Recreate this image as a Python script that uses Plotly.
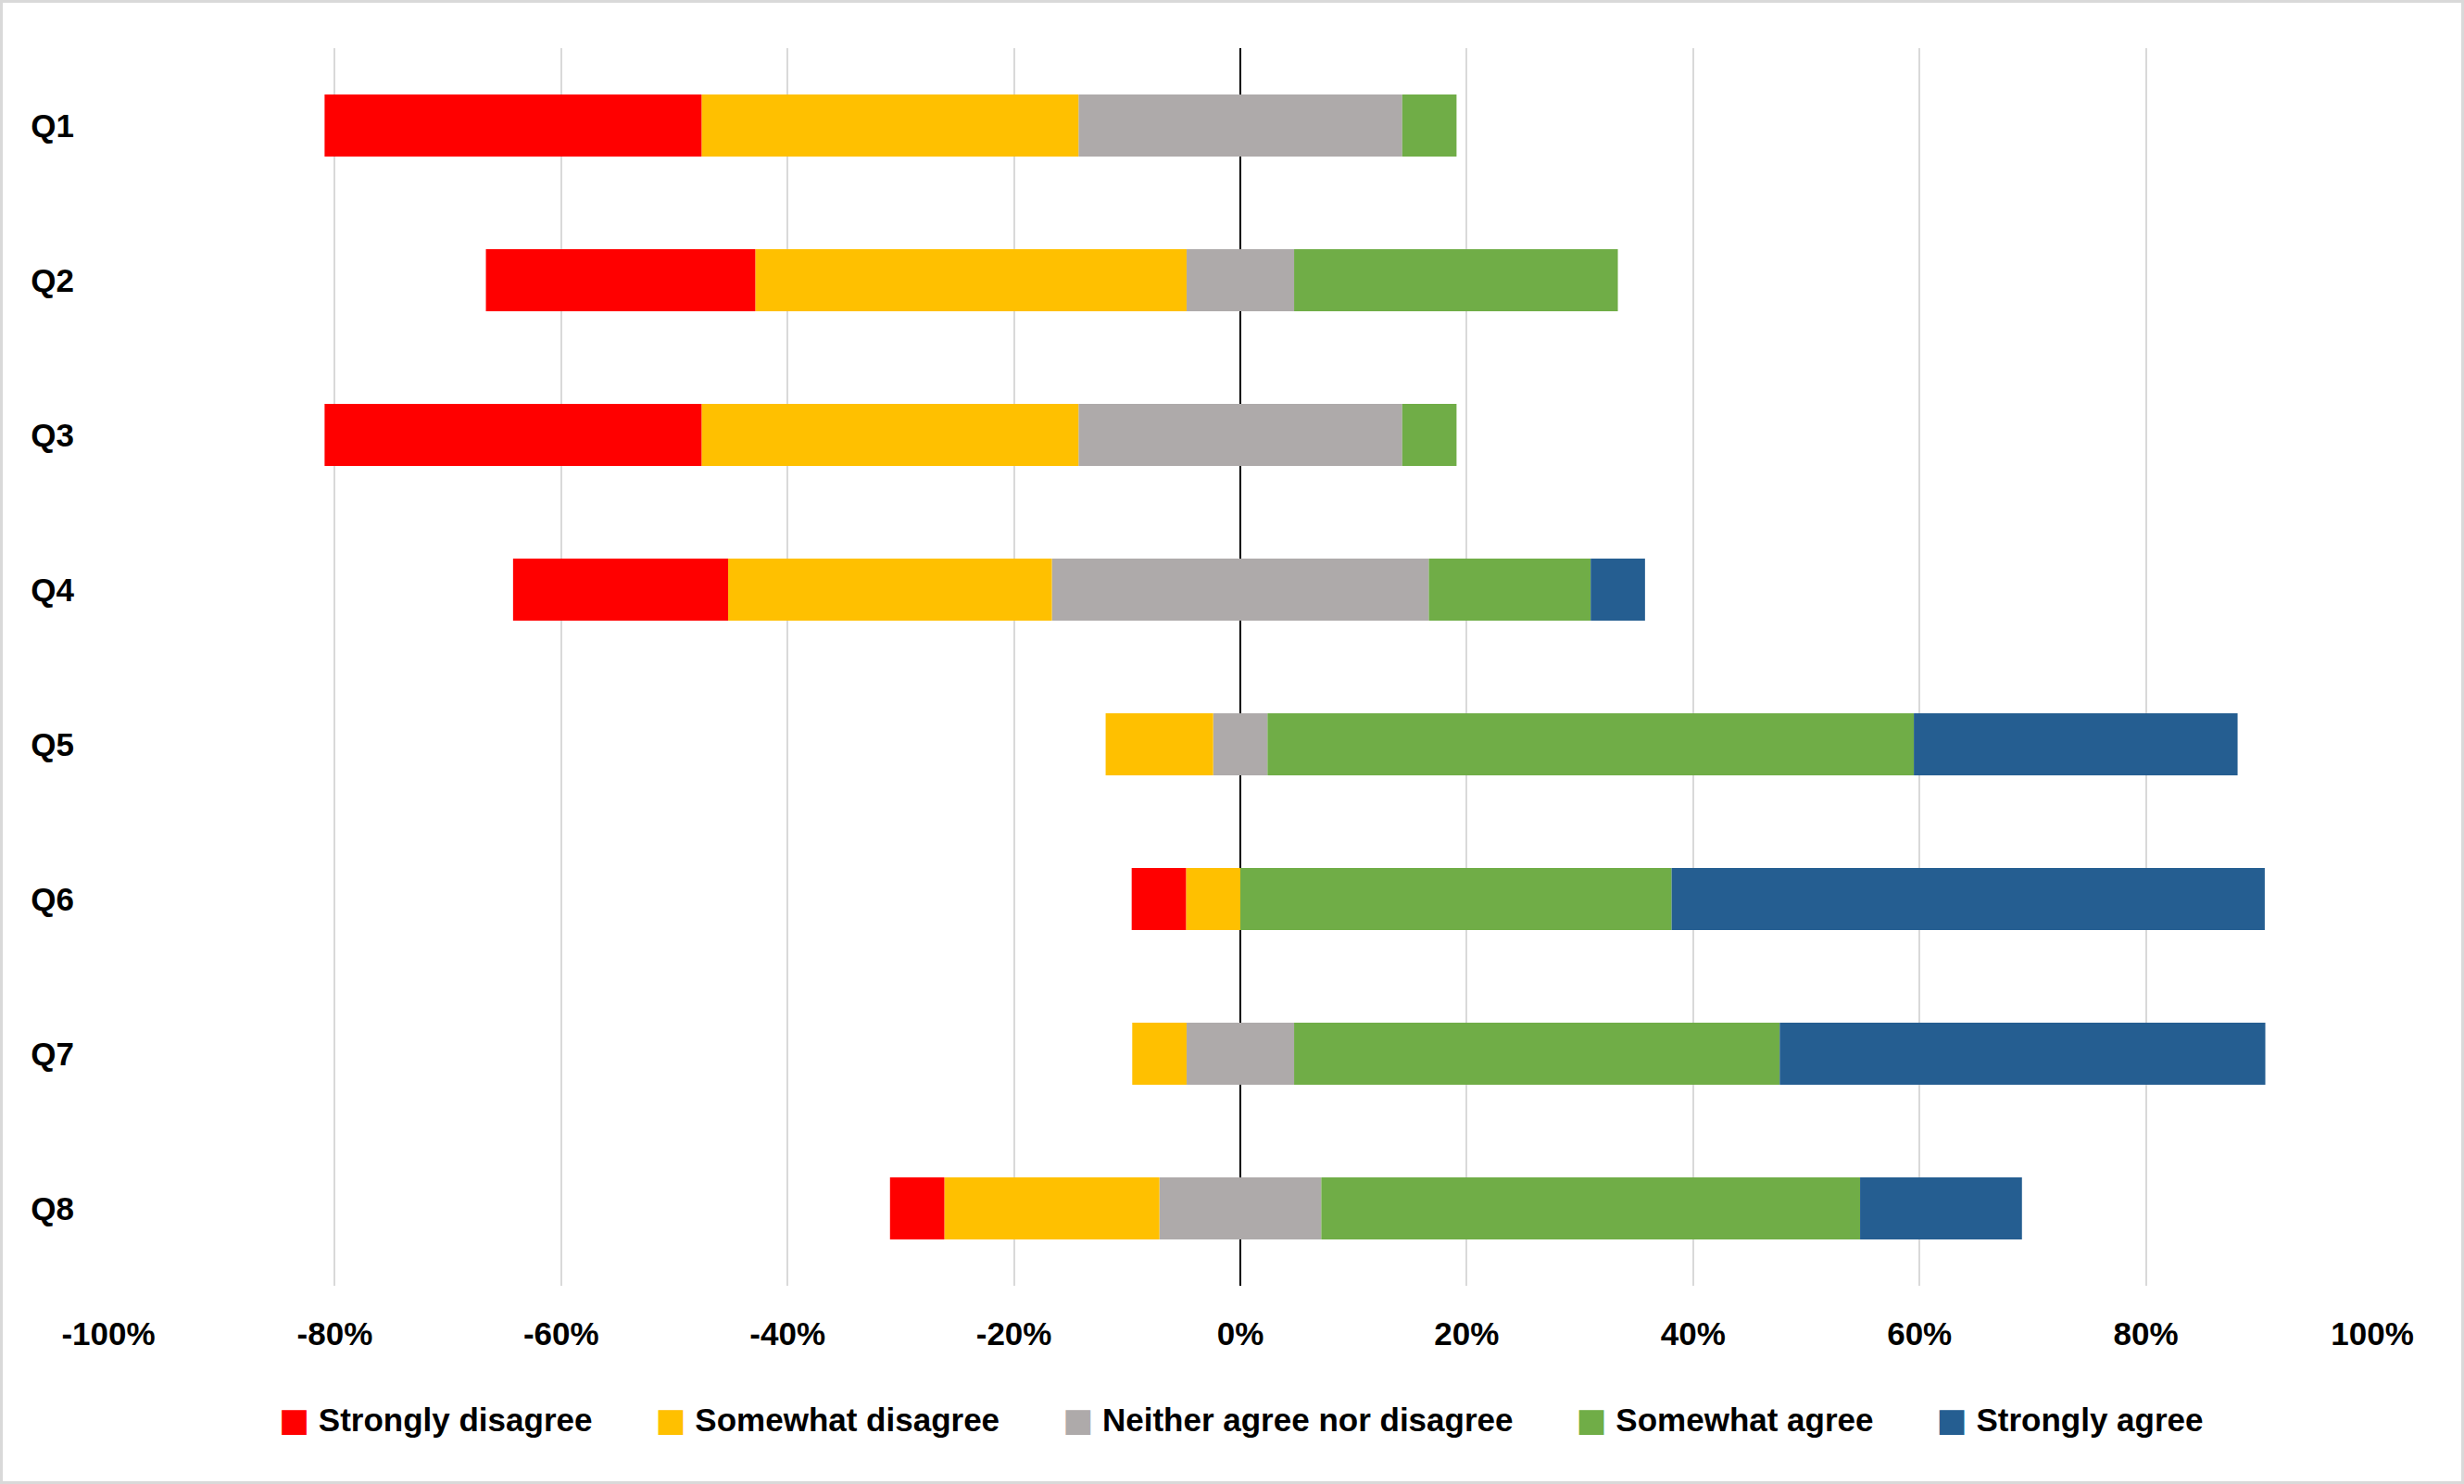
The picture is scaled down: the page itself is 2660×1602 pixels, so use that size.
import plotly.graph_objects as go

# survey answers, percent of respondents per question
questions = ["Q1", "Q2", "Q3", "Q4", "Q5", "Q6", "Q7", "Q8"]
strongly_disagree = [33.3, 23.8, 33.3, 19.0, 0.0, 4.8, 0.0, 4.8]
somewhat_disagree = [33.3, 38.1, 33.3, 28.6, 9.5, 4.8, 4.8, 19.0]
neutral = [28.6, 9.5, 28.6, 33.3, 4.8, 0.0, 9.5, 14.3]
somewhat_agree = [4.8, 28.6, 4.8, 14.3, 57.1, 38.1, 42.9, 47.6]
strongly_agree = [0.0, 0.0, 0.0, 4.8, 28.6, 52.4, 42.9, 14.3]

legend_names = ["Strongly disagree", "Somewhat disagree",
                "Neither agree nor disagree", "Somewhat agree", "Strongly agree"]
colors = ["#FF0000", "#FFC000", "#AEAAAA", "#70AD47", "#255E91"]
x_ticks = [-100, -80, -60, -40, -20, 0, 20, 40, 60, 80, 100]

W, H = 2660, 1602
ml, mr, mt, mb = 117, 99, 52, 214
FONT = "Liberation Sans, Arial, sans-serif"

half_neutral = [v / 2 for v in neutral]

fig = go.Figure()


def add_bar(values, color, sign):
    fig.add_trace(go.Bar(
        y=questions, x=[sign * v for v in values], orientation="h",
        marker=dict(color=color, line=dict(width=0)),
        showlegend=False, hoverinfo="skip",
    ))


# negative side, stacked outward from zero
add_bar(half_neutral, colors[2], -1)
add_bar(somewhat_disagree, colors[1], -1)
add_bar(strongly_disagree, colors[0], -1)
# positive side
add_bar(half_neutral, colors[2], 1)
add_bar(somewhat_agree, colors[3], 1)
add_bar(strongly_agree, colors[4], 1)

# legend built as text so the swatches can be as big as in the original
gap = "&nbsp;" * 7
legend_text = gap.join(
    '<span style="color:%s;font-family:DejaVu Sans">&#9632;</span>&nbsp;<b>%s</b>' % (c, n)
    for c, n in zip(colors, legend_names)
)
fig.add_annotation(
    text=legend_text, xref="paper", yref="paper", x=0.5, y=-(1533 - (H - mb)) / (H - mt - mb),
    xanchor="center", yanchor="middle", showarrow=False,
    font=dict(family=FONT, size=35, color="black"),
)

# light border round the whole chart
pw, ph = W - ml - mr, H - mt - mb
fig.add_shape(
    type="rect", xref="paper", yref="paper",
    x0=-(ml - 1.5) / pw, x1=1 + (mr - 1.5) / pw,
    y0=-(mb - 1.5) / ph, y1=1 + (mt - 1.5) / ph,
    line=dict(color="#D9D9D9", width=3), fillcolor="rgba(0,0,0,0)",
)

fig.update_layout(
    width=W, height=H,
    margin=dict(l=ml, r=mr, t=mt, b=mb),
    barmode="relative", bargap=0.6,
    plot_bgcolor="white", paper_bgcolor="white",
    font=dict(family=FONT, size=35, color="black"),
    showlegend=False,
    xaxis=dict(
        range=[-100, 100], tickvals=x_ticks,
        ticktext=["<b>%d%%</b>" % v for v in x_ticks],
        showgrid=True, gridcolor="#D9D9D9", gridwidth=2,
        zeroline=True, zerolinecolor="black", zerolinewidth=2,
        showline=False, ticks="", ticklabelstandoff=28,
        fixedrange=True,
    ),
    yaxis=dict(
        range=[7.5, -0.5], tickvals=questions,
        ticktext=["<b>%s</b>" % q for q in questions],
        showgrid=False, zeroline=False, showline=False, ticks="",
        ticklabelstandoff=36,
        fixedrange=True,
    ),
)

# page has a default body margin that would push the chart off the window
fig.write_html("out.html", config={"displayModeBar": False},
               post_script="document.body.style.margin='0';"
                           "document.body.style.overflow='hidden';")
